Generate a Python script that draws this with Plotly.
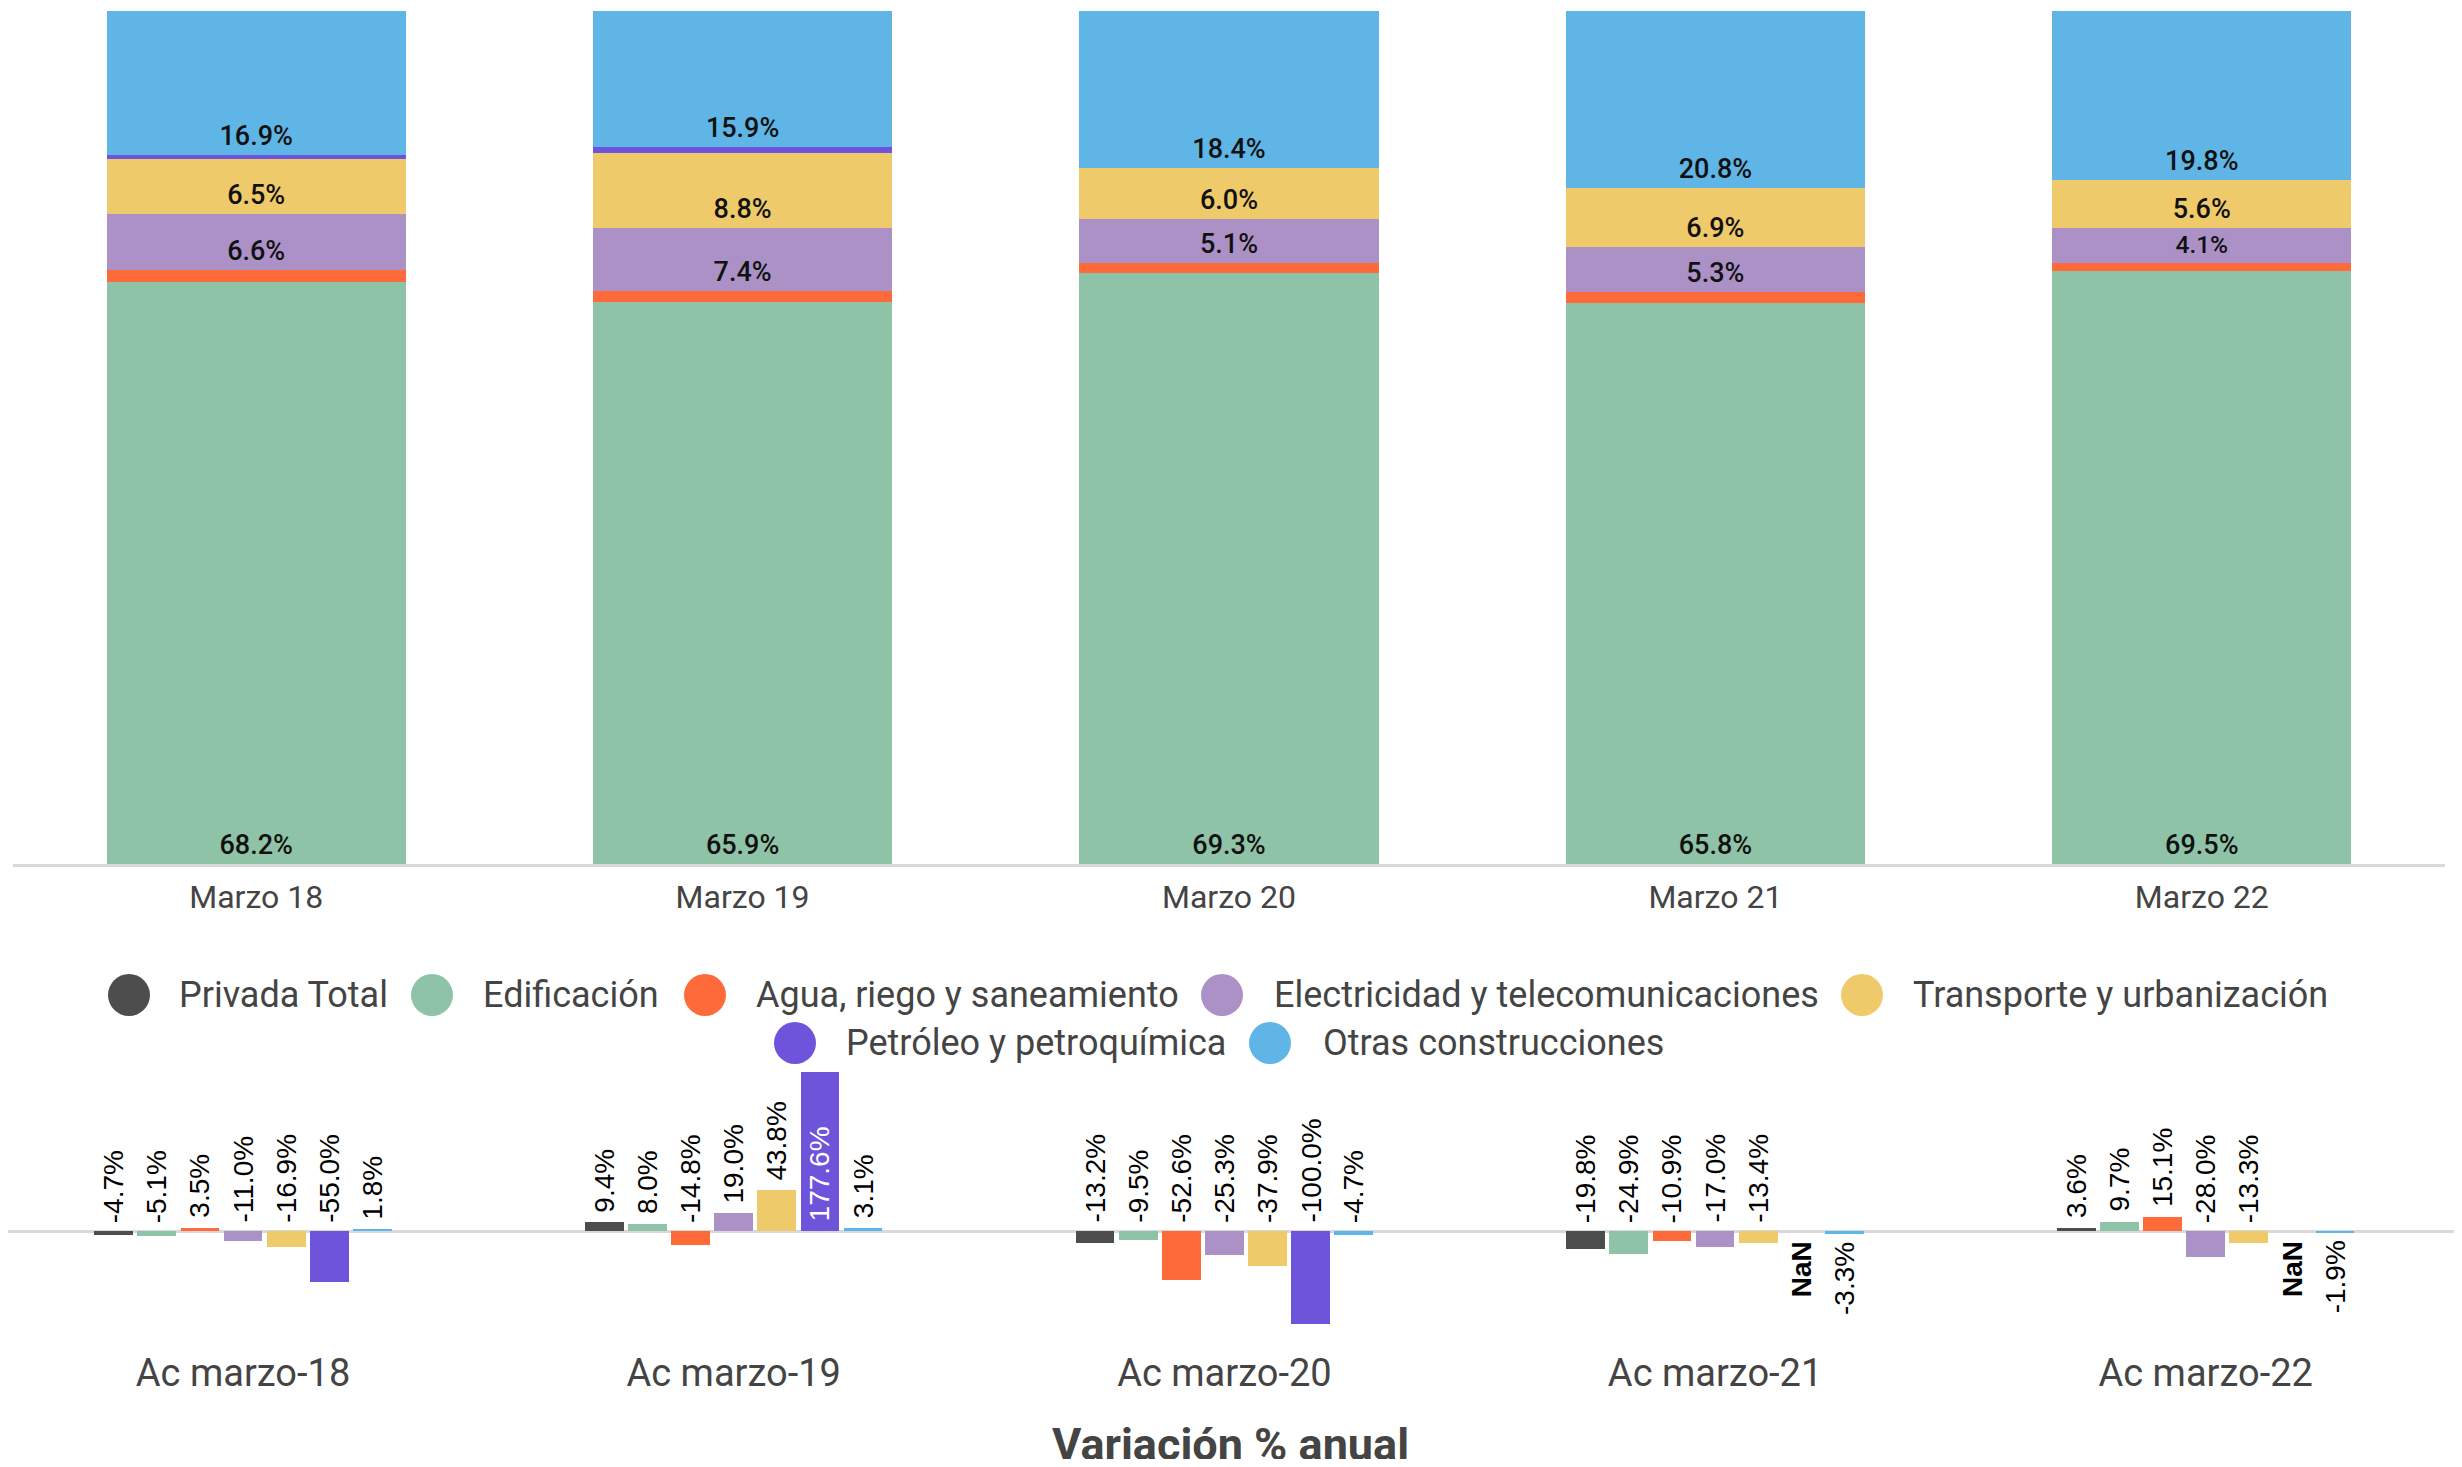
import plotly.graph_objects as go

# ---------------- data ----------------
series = ["Privada Total", "Edificación", "Agua, riego y saneamiento",
          "Electricidad y telecomunicaciones", "Transporte y urbanización",
          "Petróleo y petroquímica", "Otras construcciones"]
colors = ["#4d4d4d", "#8ec3a7", "#fe6a3a", "#ac91c7", "#efca6a", "#6e53db", "#5fb5e5"]

top_categories = ["Marzo 18", "Marzo 19", "Marzo 20", "Marzo 21", "Marzo 22"]
share_edificacion = [68.2, 65.9, 69.3, 65.8, 69.5]
share_agua = [1.4, 1.3, 1.2, 1.2, 1.0]
share_electricidad = [6.6, 7.4, 5.1, 5.3, 4.1]
share_transporte = [6.5, 8.8, 6.0, 6.9, 5.6]
share_petroleo = [0.4, 0.7, 0.0, 0.0, 0.0]
share_otras = [16.9, 15.9, 18.4, 20.8, 19.8]

bottom_categories = ["Ac marzo-18", "Ac marzo-19", "Ac marzo-20", "Ac marzo-21", "Ac marzo-22"]
var_privada = [-4.7, 9.4, -13.2, -19.8, 3.6]
var_edificacion = [-5.1, 8.0, -9.5, -24.9, 9.7]
var_agua = [3.5, -14.8, -52.6, -10.9, 15.1]
var_electricidad = [-11.0, 19.0, -25.3, -17.0, -28.0]
var_transporte = [-16.9, 43.8, -37.9, -13.4, -13.3]
var_petroleo = [-55.0, 177.6, -100.0, None, None]
var_otras = [1.8, 3.1, -4.7, -3.3, -1.9]

# ---------------- layout constants ----------------
W, H = 2462, 1467
PAD = 8  # default page margin around the plot div
FW, FH = W - 2 * PAD, H - 2 * PAD
GRAY = "#444444"
LINE = "#d9d9d9"


def px_x(v):
    return (v - PAD) / FW


def px_y(v):
    return 1 - (v - PAD) / FH


fig = go.Figure()

# ---- top stacked chart ----
top_series = [
    (1, share_edificacion, True),
    (2, share_agua, False),
    (3, share_electricidad, True),
    (4, share_transporte, True),
    (5, share_petroleo, False),
    (6, share_otras, True),
]
for idx, vals, lab in top_series:
    fig.add_trace(go.Bar(
        x=top_categories, y=vals, name=series[idx],
        marker=dict(color=colors[idx], line=dict(width=0)),
        text=[f"{v:.1f}%" for v in vals] if lab else None,
        textposition="inside" if lab else "none",
        insidetextanchor="start", textangle=0,
        textfont=dict(family="Roboto", size=27, color="#111111", weight=500),
        xaxis="x", yaxis="y", showlegend=False, hoverinfo="skip",
    ))

# ---- bottom grouped chart (numeric x so each series has its own slot) ----
bottom_series = [var_privada, var_edificacion, var_agua, var_electricidad,
                 var_transporte, var_petroleo, var_otras]
n = len(bottom_series)
group_frac = 0.615
slot = group_frac / n
bar_w = slot * 0.9

LBL = dict(family="Arial, Liberation Sans", size=28)
annotations = []
for i, vals in enumerate(bottom_series):
    xs = [k + (i - (n - 1) / 2) * slot for k in range(len(bottom_categories))]
    fig.add_trace(go.Bar(
        x=xs, y=[v if v is not None else 0 for v in vals], width=bar_w,
        name=series[i], marker=dict(color=colors[i], line=dict(width=0)),
        xaxis="x2", yaxis="y2", showlegend=False, hoverinfo="skip",
    ))
    for k, v in enumerate(vals):
        if v is None:
            annotations.append(dict(x=xs[k], y=0, xref="x2", yref="y2", text="<b>NaN</b>",
                                    textangle=-90, showarrow=False, yanchor="top", yshift=-8,
                                    font=dict(**LBL, color="#000")))
            continue
        txt = f"{v:.1f}%"
        color = "#000"
        if v > 150:  # label does not fit above, drawn inside the bar
            y, anchor, shift, color = 0, "bottom", 8, "#ffffff"
        elif v >= 0:
            y, anchor, shift = v, "bottom", 8
        elif i == n - 1 and k >= 3:
            y, anchor, shift = v, "top", -6
        else:
            y, anchor, shift = 0, "bottom", 6
        annotations.append(dict(x=xs[k], y=y, xref="x2", yref="y2", text=txt,
                                textangle=-90, showarrow=False, yanchor=anchor, yshift=shift,
                                font=dict(**LBL, color=color)))

# ---- custom legend (large round markers) ----
legend_rows = [
    (995, [(129, 177, 0), (432, 481, 1), (705, 754, 2), (1222, 1272, 3), (1862, 1911, 4)]),
    (1043, [(795, 844, 5), (1270, 1321, 6)]),
]
shapes = []
R = 21
for cy, items in legend_rows:
    for cx, tx, idx in items:
        shapes.append(dict(type="circle", xref="paper", yref="paper",
                           x0=px_x(cx - R), x1=px_x(cx + R), y0=px_y(cy + R), y1=px_y(cy - R),
                           fillcolor=colors[idx], line=dict(width=0)))
        annotations.append(dict(x=px_x(tx), y=px_y(cy), xref="paper", yref="paper",
                                text=series[idx], showarrow=False, xanchor="left", yanchor="middle",
                                font=dict(family="Roboto", size=36, color=GRAY)))

annotations.append(dict(x=px_x(1230), y=px_y(1444), xref="paper", yref="paper",
                        text="<b>Variación % anual</b>", showarrow=False,
                        xanchor="center", yanchor="middle",
                        font=dict(family="Roboto", size=45, color=GRAY)))

fig.update_layout(
    width=FW, height=FH,
    margin=dict(l=0, r=0, t=0, b=0),
    paper_bgcolor="white", plot_bgcolor="white",
    barmode="stack", bargap=0.385,
    uniformtext=dict(minsize=27, mode="show"),
    showlegend=False,
    xaxis=dict(domain=[px_x(13), px_x(2445)], anchor="y", type="category",
               showline=True, linecolor=LINE, linewidth=3, ticks="", ticklabelstandoff=3,
               tickfont=dict(family="Roboto", size=32, color=GRAY), showgrid=False),
    yaxis=dict(domain=[px_y(864), px_y(11)], anchor="x", range=[0, 100],
               visible=False, showgrid=False, zeroline=False),
    xaxis2=dict(domain=[0, 1], anchor="y2", range=[-0.479, 4.506],
                tickvals=list(range(len(bottom_categories))), ticktext=bottom_categories,
                ticks="", showline=False, showgrid=False, zeroline=False, ticklabelstandoff=2,
                tickfont=dict(family="Roboto", size=38, color=GRAY)),
    yaxis2=dict(domain=[px_y(1345), px_y(1072)], anchor="x2", range=[-122.6, 171],
                showticklabels=False, showgrid=False, zeroline=True,
                zerolinecolor=LINE, zerolinewidth=3),
    annotations=annotations,
    shapes=shapes,
)

fig.write_html("out.html")
